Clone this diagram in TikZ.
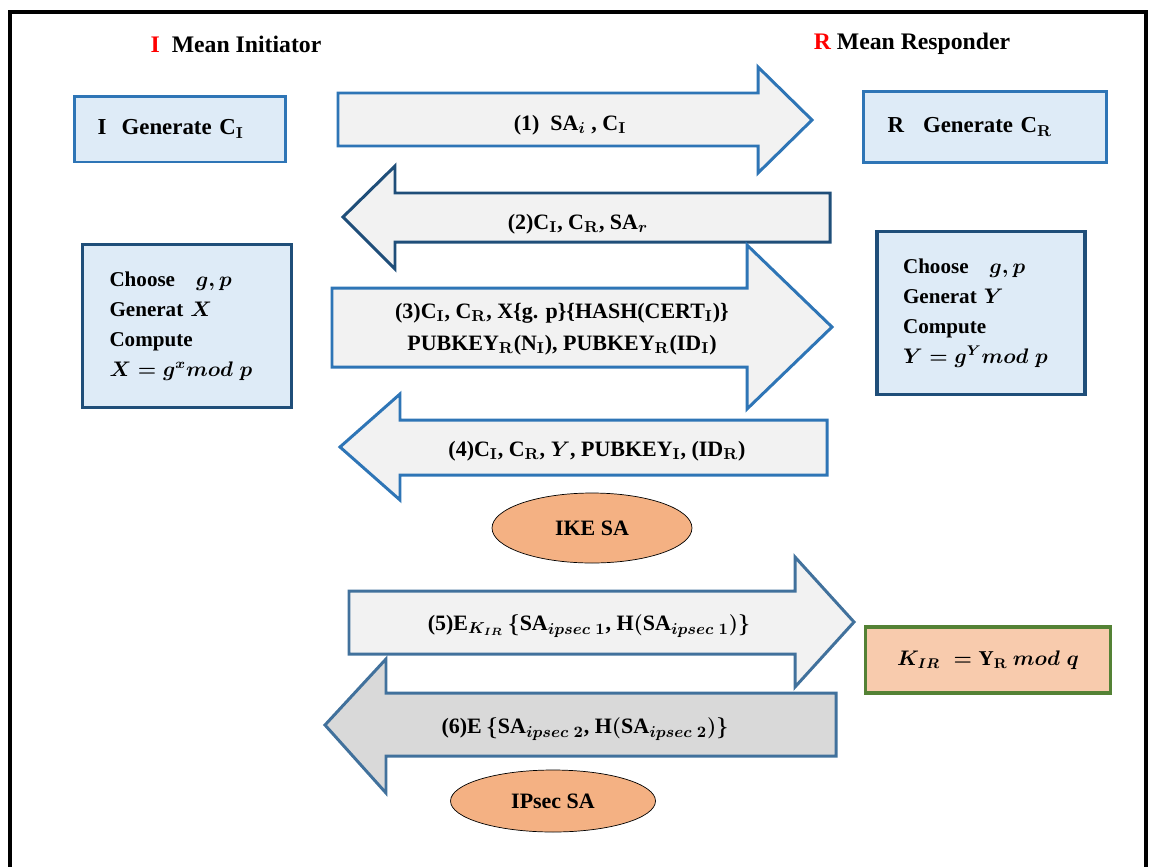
\documentclass[tikz,border=0pt]{standalone}
\usepackage{fontspec}
\setmainfont{Liberation Serif}
\usetikzlibrary{positioning,shapes.geometric}

\definecolor{IkeBlue}{RGB}{46,117,182}
\definecolor{IkeDarkBlue}{RGB}{31,78,121}
\definecolor{IkeMidBlue}{RGB}{65,113,156}
\definecolor{IkeBoxFill}{RGB}{222,235,247}
\definecolor{IkeArrowFill}{RGB}{242,242,242}
\definecolor{IkeArrowGrey}{RGB}{217,217,217}
\definecolor{IkeOrange}{RGB}{244,177,131}
\definecolor{IkeKeyFill}{RGB}{248,203,173}
\definecolor{IkeGreen}{RGB}{84,130,53}

\tikzset{
  msgarrow/.style={draw=IkeBlue, line width=1.7pt, fill=IkeArrowFill, line join=miter},
  msgtext/.style={font=\bfseries\boldmath\fontsize{12.5}{18}\selectfont, align=center, inner sep=0pt},
  genbox/.style={draw=IkeBlue, line width=1.7pt, fill=IkeBoxFill, align=left,
    font=\bfseries\boldmath\fontsize{13}{15}\selectfont},
  dhbox/.style={draw=IkeDarkBlue, line width=2.2pt, fill=IkeBoxFill, align=left,
    font=\bfseries\boldmath\fontsize{12}{17}\selectfont},
  saoval/.style={ellipse, draw=black, thin, fill=IkeOrange, font=\bfseries\fontsize{12.5}{14}\selectfont},
  legend/.style={font=\bfseries\fontsize{13.5}{15}\selectfont}
}

\begin{document}
\begin{tikzpicture}[x=0.02cm, y=-0.02cm]
  \useasboundingbox (0,0) rectangle (1149,866);
  % outer frame
  \draw[line width=2.6pt] (10,880) -- (10,12) -- (1146,12) -- (1146,880);

  % legend
  \node[legend] (ini) at (236,44) {\textcolor{red}{I}\ \ Mean Initiator};
  \node[legend] (res) at (912,44) {\textcolor{red}{R} Mean Responder};

  % generate boxes
  \node[genbox, minimum width=4.24cm, minimum height=1.32cm, text width=3.3cm] (geni) at (180,129) {I\ \ Generate C$_\mathbf{I}$};
  \node[genbox, minimum width=4.86cm, minimum height=1.42cm, text width=3.9cm] (genr) at (985,127) {R\ \ \,Generate C$_\mathbf{R}$\\[2pt]};

  % Diffie-Hellman boxes
  \node[dhbox, minimum width=4.18cm, minimum height=3.26cm, text width=3.1cm] (dhi) at (187,326)
    {Choose~~ $g,p$\\ Generat $X$\\ Compute\\ $X=g^{x}mod\;p$};
  \node[dhbox, minimum width=4.16cm, minimum height=3.26cm, text width=3.12cm] (dhr) at (981,313)
    {Choose~~ $g,p$\\ Generat $Y$\\ Compute\\ $Y=g^{Y}mod\;p$};

  % message arrows
  \draw[msgarrow] (338,93) -- (758,93) -- (758,67) -- (812,120) -- (758,173) -- (758,146) -- (338,146) -- cycle;
  \node[msgtext] (m1) at (570,125) {(1)~ SA$_{i}$ , C$_\mathbf{I}$};

  \draw[msgarrow, draw=IkeDarkBlue] (830,193) -- (395,193) -- (395,166) -- (343,217) -- (395,269) -- (395,242) -- (830,242) -- cycle;
  \node[msgtext] (m2) at (578,224) {(2)C$_\mathbf{I}$, C$_\mathbf{R}$, SA$_{r}$};

  \draw[msgarrow] (332,288) -- (747,288) -- (747,245) -- (832,327) -- (747,409) -- (747,367) -- (332,367) -- cycle;
  \node[msgtext] (m3) at (562,329) {(3)C$_\mathbf{I}$, C$_\mathbf{R}$, X\{g. p\}\{HASH(CERT$_\mathbf{I}$)\}\\
    PUBKEY$_\mathbf{R}$(N$_\mathbf{I}$), PUBKEY$_\mathbf{R}$(ID$_\mathbf{I}$)};

  \draw[msgarrow] (827,420) -- (400,420) -- (400,394) -- (340,447) -- (400,500) -- (400,475) -- (827,475) -- cycle;
  \node[msgtext] (m4) at (597,451) {(4)C$_\mathbf{I}$, C$_\mathbf{R}$, $Y$, PUBKEY$_\mathbf{I}$, (ID$_\mathbf{R}$)};

  \node[saoval, minimum width=4cm, minimum height=1.4cm] (ike) at (592,528) {IKE SA};

  \draw[msgarrow, draw=IkeMidBlue] (349,591) -- (795,591) -- (795,557) -- (854,622) -- (795,687) -- (795,654) -- (349,654) -- cycle;
  \node[msgtext] (m5) at (589,626) {(5)E$_{K_{IR}}\,\big\{$SA$_{ipsec\;1}$, H$\big($SA$_{ipsec\;1}\big)\big\}$};

  \draw[msgarrow, draw=IkeMidBlue, fill=IkeArrowGrey] (836,693) -- (386,693) -- (386,659) -- (325,725) -- (386,793) -- (386,756) -- (836,756) -- cycle;
  \node[msgtext] (m6) at (585,729) {(6)E$\,\big\{$SA$_{ipsec\;2}$, H$\big($SA$_{ipsec\;2}\big)\big\}$};

  \node[saoval, minimum width=4.1cm, minimum height=1.24cm] (ipsec) at (553,801) {IPsec SA};

  % session key
  \node[draw=IkeGreen, line width=2pt, fill=IkeKeyFill, minimum width=4.9cm, minimum height=1.32cm,
    font=\bfseries\boldmath\fontsize{12}{15}\selectfont] (key) at (988,660) {$K_{IR}\;=\;$Y$_\mathbf{R}$ $mod\;q$};
\end{tikzpicture}
\end{document}
